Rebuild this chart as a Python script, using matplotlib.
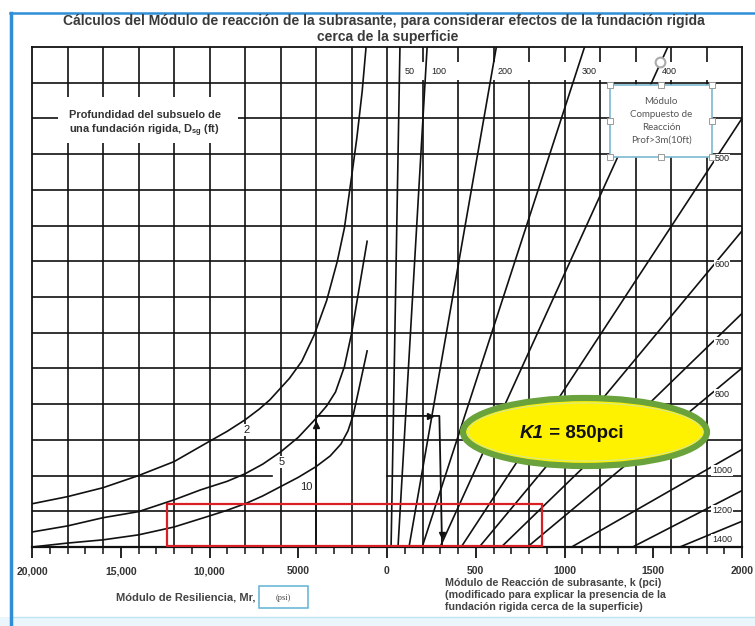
import matplotlib
matplotlib.use("Agg")
import matplotlib.pyplot as plt
from matplotlib.patches import Ellipse, Rectangle
import numpy as np


# bottom scale: Mr (psi) on the left half, k (pci) on the right half
PSI_TICKS = [20000, 15000, 10000, 5000, 0]
PSI_TICK_LABELS = ["20,000", "15,000", "10,000", "5000", "0"]
PCI_TICKS = [500, 1000, 1500, 2000]
PCI_TICK_LABELS = ["500", "1000", "1500", "2000"]

# depth curves D_sg (ft): Mr in psi against chart row (0 = bottom, 14 = top)
DEPTH_LABELS = ["2", "5", "10"]
DEPTH_2_PSI = [20000, 18000, 16000, 14000, 12000, 10000, 9000, 8000, 7200, 6600, 5500, 4800, 4100, 3400, 2800, 2400, 2000, 1700, 1400, 1180]
DEPTH_2_ROW = [1.21, 1.41, 1.66, 2.00, 2.39, 2.96, 3.24, 3.56, 3.86, 4.12, 4.72, 5.20, 5.94, 6.90, 8.00, 8.93, 10.35, 11.45, 12.75, 14.0]
DEPTH_5_PSI = [20000, 18000, 16000, 14000, 12000, 10500, 9000, 8000, 7000, 6000, 5000, 4000, 3400, 2900, 2400, 2000, 1570, 1120]
DEPTH_5_ROW = [0.42, 0.59, 0.82, 0.99, 1.32, 1.60, 1.84, 2.05, 2.32, 2.66, 3.07, 3.60, 3.95, 4.34, 5.05, 5.97, 7.24, 8.56]
DEPTH_10_PSI = [20000, 18000, 16000, 14000, 12000, 10000, 9000, 7900, 7000, 6000, 5000, 4000, 3200, 2600, 2200, 1900, 1570, 1120]
DEPTH_10_ROW = [0.00, 0.11, 0.20, 0.34, 0.56, 0.87, 1.03, 1.23, 1.43, 1.69, 1.95, 2.25, 2.55, 2.88, 3.25, 3.70, 4.45, 5.49]

# composite k lines (pci): start on the bottom axis, end on top or right edge
K_VALUES = [50, 100, 200, 300, 400, 500, 600, 700, 800, 1000, 1200, 1400]
K_BOTTOM_PCI = [23, 62, 124, 198, 299, 418, 520, 644, 791, 1040, 1384, 1650]
K_END_PCI = [73, 226, 616, 1113, 1582, 2000, 2000, 2000, 2000, 2000, 2000, 2000]
K_END_ROW = [14, 14, 14, 14, 14, 12.0, 8.85, 6.54, 5.01, 2.73, 1.58, 0.72]

# worked example
EXAMPLE_MR = 4000
EXAMPLE_ROW = 3.67
EXAMPLE_K_TOP = 295
EXAMPLE_K_BOTTOM = 310
K1_VALUE = "850pci"

W, H = 755, 626
AX_L, AX_R, AX_T, AX_B = 32, 742, 47, 547


def psi_x(v):
    return -np.asarray(v, dtype=float) / 1000


def pci_x(v):
    return np.asarray(v, dtype=float) / 100


def fig_xy(px, py):
    return px / W, 1 - py / H


def ax_xy(px, py):
    return (px - AX_L) / (AX_R - AX_L), (AX_B - py) / (AX_B - AX_T)


fig = plt.figure(figsize=(W / 100, H / 100), dpi=100)
fig.patch.set_facecolor("white")
ax = fig.add_axes([AX_L / W, 1 - AX_B / H, (AX_R - AX_L) / W, (AX_B - AX_T) / H])
ax.set_xlim(-20, 20)
ax.set_ylim(0, 14)

ink = "#111111"
grid_lw = 1.2
font = "Liberation Sans"

# grid
for gx in np.arange(-18, 20, 2):
    ax.plot([gx, gx], [0, 14], color=ink, lw=grid_lw, zorder=1)
for gy in range(1, 14):
    if gy == 2:
        ax.plot([-20, -6.5], [gy, gy], color=ink, lw=grid_lw, zorder=1)
        ax.plot([0, 20], [gy, gy], color=ink, lw=grid_lw, zorder=1)
    else:
        ax.plot([-20, 20], [gy, gy], color=ink, lw=grid_lw, zorder=1)

# white strip in top row where the k labels sit
ax.add_patch(Rectangle((0.4, 13.08), 19.6, 0.5, facecolor="white",
                       edgecolor="none", zorder=1.5))

# depth curves
for psi, row in [(DEPTH_2_PSI, DEPTH_2_ROW), (DEPTH_5_PSI, DEPTH_5_ROW),
                 (DEPTH_10_PSI, DEPTH_10_ROW)]:
    ax.plot(psi_x(psi), row, color=ink, lw=1.2, zorder=2,
            solid_joinstyle="round")

depth_label_pos = [(7900, 3.28), (5950, 2.38), (4550, 1.68)]
for lab, (p, r) in zip(DEPTH_LABELS, depth_label_pos):
    ax.text(psi_x(p), r, lab, fontsize=8, ha="center", va="center",
            color="#222222", family=font,
            bbox=dict(facecolor="white", edgecolor="none", pad=0.6), zorder=2.5)

# k lines
for k, b, e, er in zip(K_VALUES, K_BOTTOM_PCI, K_END_PCI, K_END_ROW):
    ax.plot(pci_x([b, e]), [0, er], color=ink, lw=1.2, zorder=2)
    if er >= 14:
        r = 13.3
        x = pci_x(b + (e - b) * r / er)
        ax.annotate(str(k), (x, r), xytext=(4, 0), textcoords="offset points",
                    ha="left", va="center", fontsize=6.5, color="#222222",
                    family=font, zorder=3,
                    bbox=dict(facecolor="white", edgecolor="none", pad=0.5))
    else:
        xp = 1887
        r = (xp - b) / (e - b) * er
        ax.annotate(str(k), (pci_x(xp), r), xytext=(0, -7), textcoords="offset points",
                    ha="center", va="center", fontsize=6.5, color="#222222",
                    family=font, zorder=3,
                    bbox=dict(facecolor="white", edgecolor="none", pad=0.5))

# worked example path
ex_x = psi_x(EXAMPLE_MR)
kx_top = pci_x(EXAMPLE_K_TOP)
kx_bot = pci_x(EXAMPLE_K_BOTTOM)
ax.plot([ex_x, ex_x, kx_top, kx_bot], [0, EXAMPLE_ROW, EXAMPLE_ROW, 0.05],
        color=ink, lw=1.3, zorder=2.2)
ax.plot(ex_x, EXAMPLE_ROW - 0.25, marker="^", ms=5, color=ink, zorder=2.3)
ax.plot(kx_top - 0.5, EXAMPLE_ROW, marker=">", ms=4.5, color=ink, zorder=2.3)
ax.plot(kx_bot - 0.02, 0.35, marker="v", ms=5, color=ink, zorder=2.3)

# red highlight rectangle
x0, y0 = ax_xy(167, 546)
x1, y1 = ax_xy(542, 504)
ax.add_patch(Rectangle((x0, y0), x1 - x0, y1 - y0, transform=ax.transAxes,
                       facecolor="none", edgecolor="#d91f26", lw=1.6, zorder=4))

# K1 ellipse
cx, cy = ax_xy(585, 432)
ew = 244 / (AX_R - AX_L)
eh = 68 / (AX_B - AX_T)
ax.add_patch(Ellipse((cx, cy), ew, eh, transform=ax.transAxes,
                     facecolor="#fff200", edgecolor="#6aa23c", lw=4.5, zorder=5))
ax.add_patch(Ellipse((cx, cy), ew - 10 / 710, eh - 10 / 500, transform=ax.transAxes,
                     facecolor="none", edgecolor="#d8e88a", lw=0.8, zorder=5.1))
tx, ty = ax_xy(544, 433)
ax.text(tx, ty, "K1", transform=ax.transAxes, ha="right", va="center",
        fontsize=13.5, fontweight="bold", fontstyle="italic", color="#111111",
        family=font, zorder=6)
ax.text(tx, ty, " = " + K1_VALUE, transform=ax.transAxes, ha="left",
        va="center", fontsize=13.5, fontweight="bold", color="#111111",
        family=font, zorder=6)

# inset text: depth caption
bx0, by0 = ax_xy(58, 143)
bx1, by1 = ax_xy(238, 97)
ax.add_patch(Rectangle((bx0, by0), bx1 - bx0, by1 - by0, transform=ax.transAxes,
                       facecolor="white", edgecolor="none", zorder=1.6))
lx, ly = ax_xy(69, 115)
ax.text(lx, ly, "Profundidad del subsuelo de", transform=ax.transAxes,
        ha="left", va="center", fontsize=7.9, fontweight="bold", color="#333333",
        family=font, zorder=3)
lx, ly = ax_xy(69, 131)
ax.text(lx, ly, r"una fundación rigida, D$_{\mathregular{sg}}$ (ft)", transform=ax.transAxes,
        ha="left", va="center", fontsize=7.9, fontweight="bold", color="#333333",
        family=font, zorder=3)

# selected text box (composite modulus note)
sx0, sy0 = ax_xy(610, 157)
sx1, sy1 = ax_xy(712, 85)
ax.add_patch(Rectangle((sx0, sy0), sx1 - sx0, sy1 - sy0, transform=ax.transAxes,
                       facecolor="white", edgecolor="#7db9cf", lw=1.2, zorder=6))
mx, my = ax_xy(661, 121)
ax.text(mx, my, "Módulo\nCompuesto de\nReacción\nProf>3m(10ft)", transform=ax.transAxes,
        ha="center", va="center", fontsize=7, color="#555555", family="Lato",
        linespacing=1.55, zorder=7)
for hx in (610, 661, 712):
    for hy in (85, 121, 157):
        if hx == 661 and hy == 121:
            continue
        ax.plot(*ax_xy(hx, hy), transform=ax.transAxes, marker="s", ms=4,
                mfc="white", mec="#9a9a9a", mew=0.7, zorder=7, clip_on=False)
ax.plot(*ax_xy(660, 62), transform=ax.transAxes, marker="o", ms=7,
        mfc="white", mec="#aaaaaa", mew=1.5, zorder=7, clip_on=False)

# axes styling
for sp in ax.spines.values():
    sp.set_linewidth(1.3)
    sp.set_color(ink)
ax.spines["bottom"].set_linewidth(1.6)
ax.set_yticks([])
major_x = list(psi_x(PSI_TICKS)) + list(pci_x(PCI_TICKS))
ax.set_xticks(major_x)
ax.set_xticklabels(PSI_TICK_LABELS + PCI_TICK_LABELS, fontsize=7.5,
                   fontweight="bold", color="#333333", family=font)
ax.set_xticks(np.arange(-20, 21, 1), minor=True)
ax.tick_params(axis="x", which="major", direction="out", length=8, width=1.3,
               pad=6, color=ink)
ax.tick_params(axis="x", which="minor", direction="out", length=5, width=1.1,
               color=ink)

# titles and axis captions
fig.text(*fig_xy(384, 21), "Cálculos del Módulo de reacción de la subrasante, para considerar "
         "efectos de la fundación rigida", ha="center", va="center", fontsize=10,
         fontweight="bold", color="#3a3a3a", family=font)
fig.text(*fig_xy(388, 37), "cerca de la superficie", ha="center", va="center",
         fontsize=10, fontweight="bold", color="#3a3a3a", family=font)

fig.text(*fig_xy(256, 597), "Módulo de Resiliencia, Mr,", ha="right", va="center",
         fontsize=8, fontweight="bold", color="#444444", family=font)
fig.patches.append(Rectangle(fig_xy(259, 608), 49 / W, 22 / H, transform=fig.transFigure,
                             facecolor="white", edgecolor="#5fb3d3", lw=1.1))
fig.text(*fig_xy(283, 598), "(psi)", ha="center", va="center", fontsize=6,
         color="#444444", family="Liberation Serif")

for i, line in enumerate(["Módulo de Reacción de subrasante, k (pci)",
                          "(modificado para explicar la presencia de la",
                          "fundación rigida cerca de la superficie)"]):
    fig.text(*fig_xy(445, 583 + 12 * i), line, ha="left", va="center", fontsize=7.7,
             fontweight="bold", color="#444444", family=font)

# slide frame
fig.patches.append(Rectangle((0, 0), 1, 9 / H, transform=fig.transFigure,
                             facecolor="#eaf6fb", edgecolor="none"))
fig.lines.append(plt.Line2D([10 / W, 1], [1 - 617 / H, 1 - 617 / H], transform=fig.transFigure,
                            color="#bfe3f1", lw=1.0))
fig.lines.append(plt.Line2D([11 / W, 11 / W], [0, 1 - 13 / H], transform=fig.transFigure,
                            color="#2f8ed6", lw=2.5))
fig.lines.append(plt.Line2D([10 / W, 1], [1 - 13 / H, 1 - 13 / H], transform=fig.transFigure,
                            color="#2f8ed6", lw=1.8))

fig.savefig("out.png", dpi=100, facecolor="white")
